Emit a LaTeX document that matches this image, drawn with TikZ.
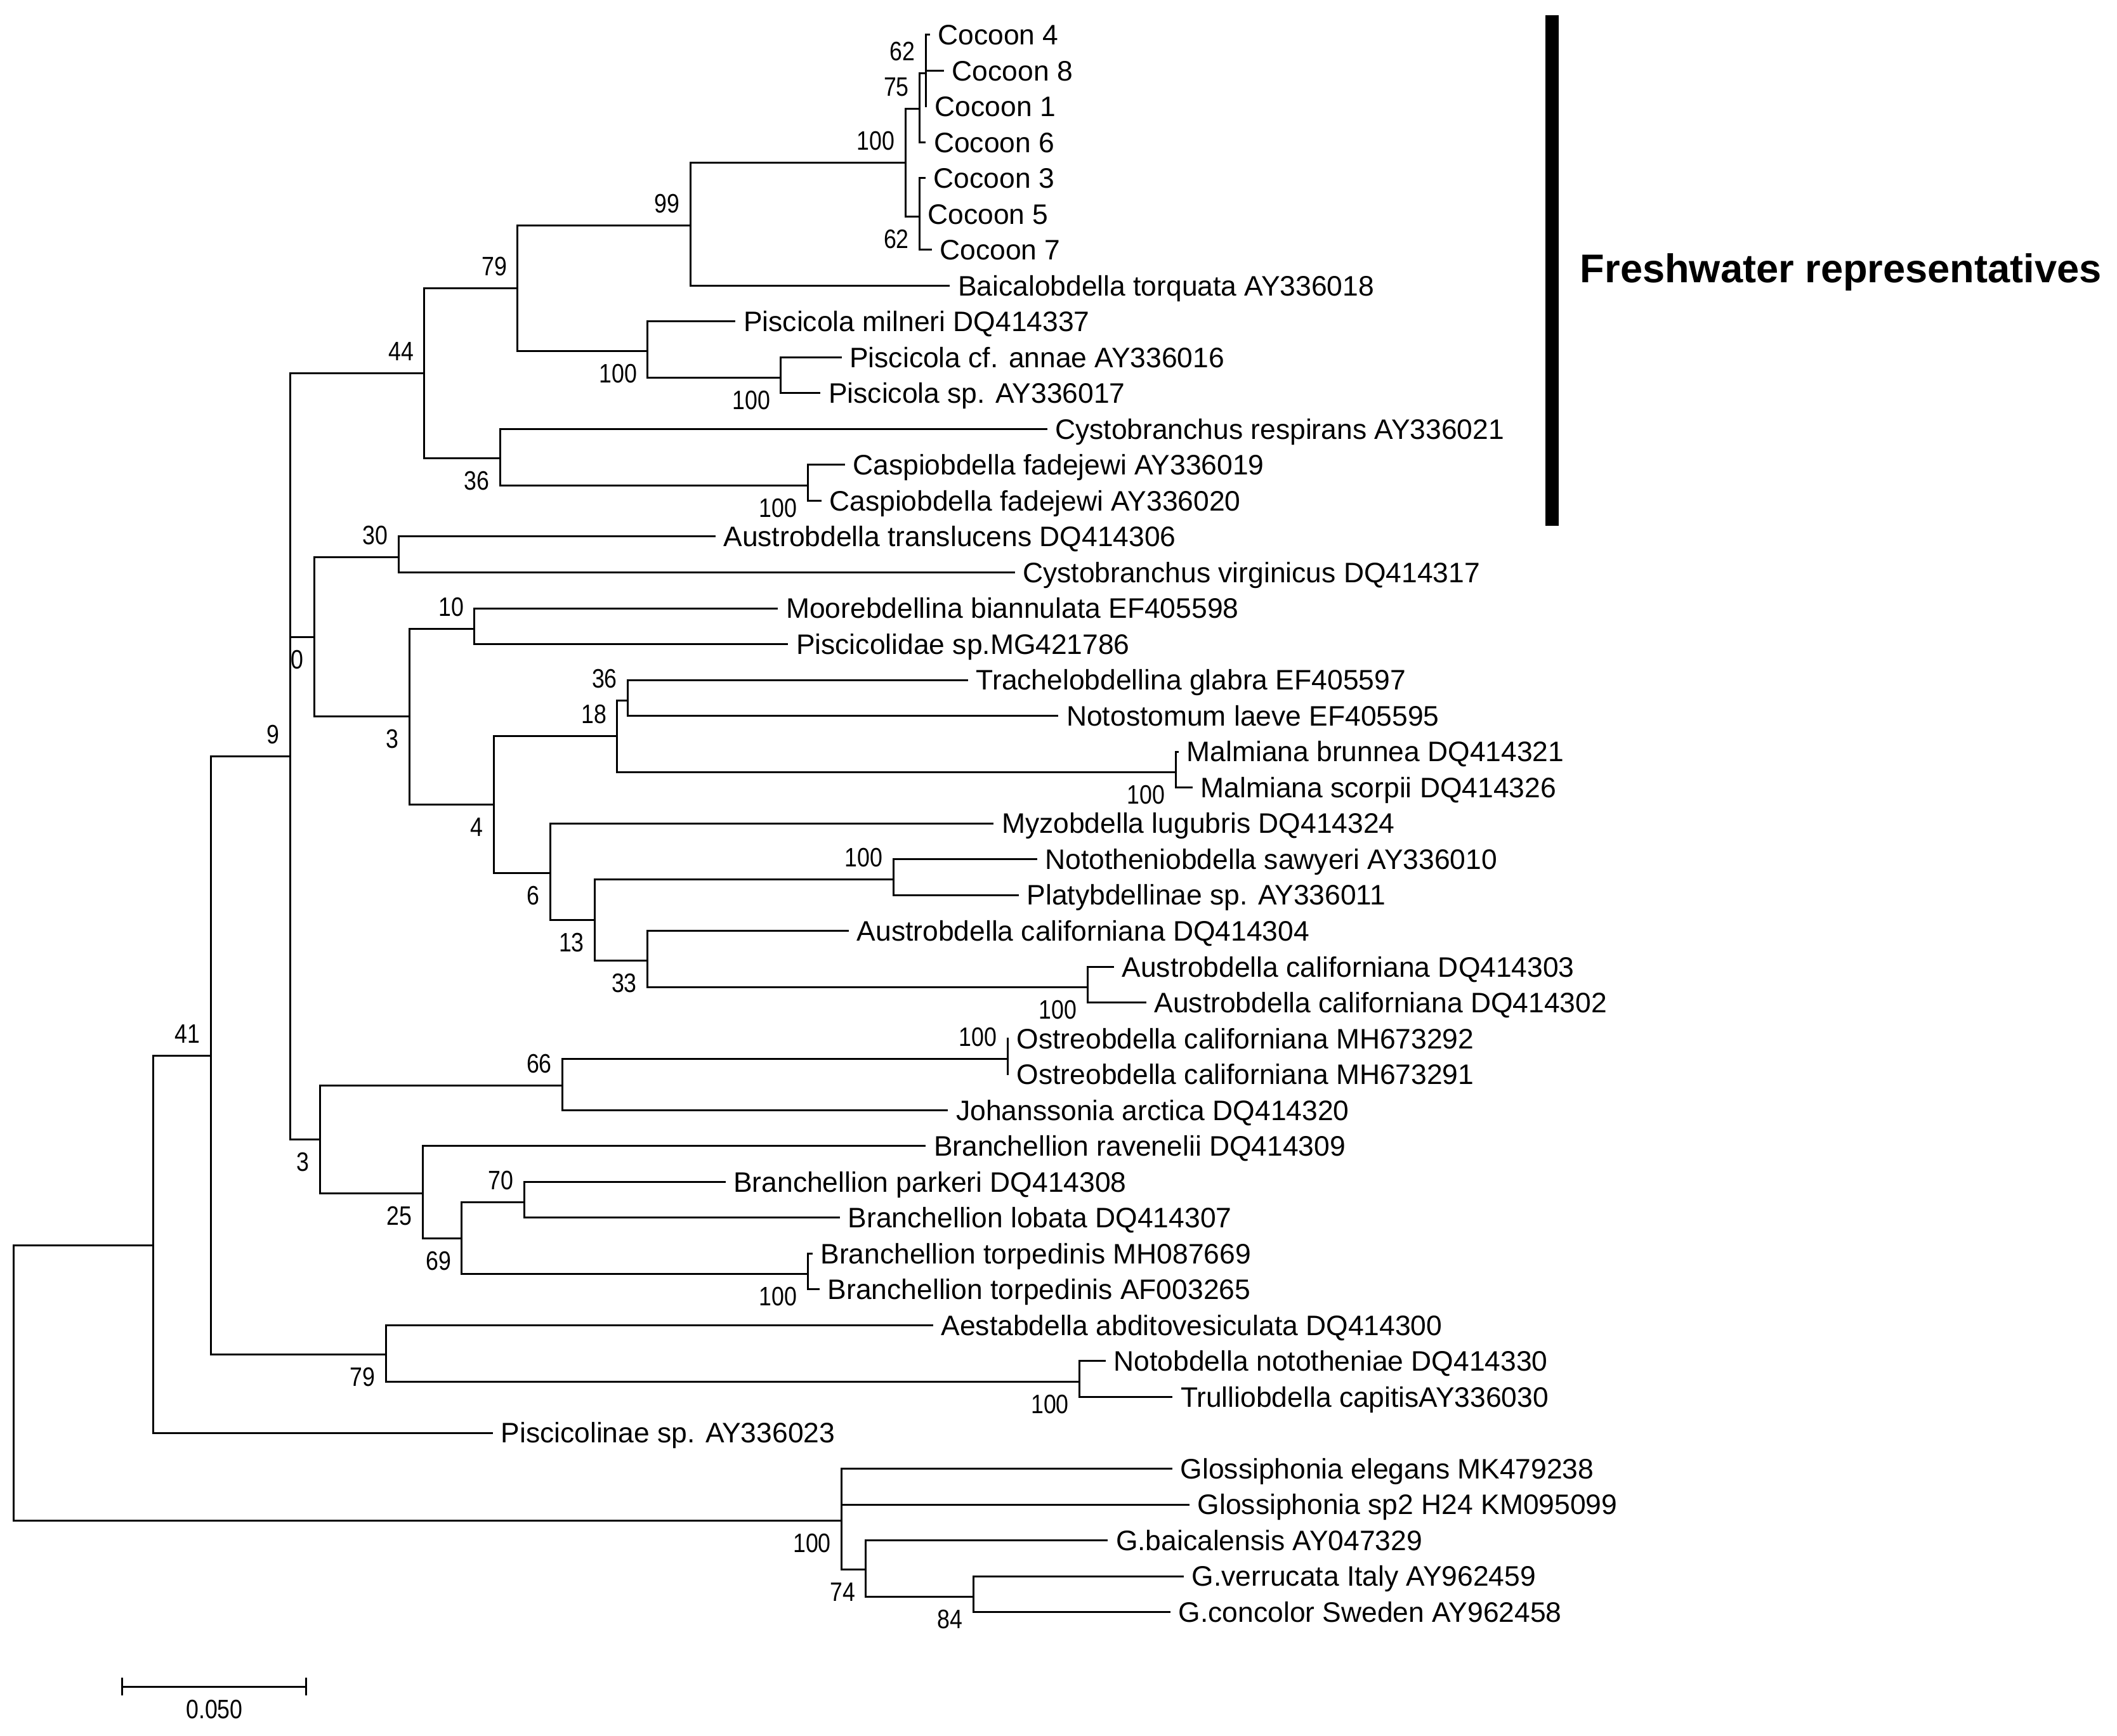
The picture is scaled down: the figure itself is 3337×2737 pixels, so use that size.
\documentclass[tikz,border=0pt]{standalone}
\usepackage{fontspec}
\setmainfont{Liberation Sans}
\newfontfamily\bsfamily[FakeStretch=0.85]{Liberation Sans}
\usepackage{tikz}

\newcommand{\leaffont}{\fontsize{11.1pt}{13pt}\selectfont}
\newcommand{\bsfont}{\bsfamily\fontsize{10.5pt}{12pt}\selectfont}
\newcommand{\fwfont}{\bfseries\fontsize{15.8pt}{18pt}\selectfont}

\begin{document}
\begin{tikzpicture}[x=0.25pt, y=-0.25pt,
    branch/.style={line width=0.75pt},
    leaf/.style={anchor=west, inner xsep=3pt, inner ysep=0pt, text height=7.9pt, text depth=0pt, yshift=1pt, font=\leaffont},
    num/.style={inner sep=0pt, text height=7.5pt, text depth=0pt, font=\bsfont},
    bs/.style={num, anchor=east, xshift=-4pt},
    bsup/.style={bs, yshift=8.75pt},
    bsdn/.style={bs, yshift=-8.75pt}]
    \useasboundingbox (0,0) rectangle (3337,2737);
    % leaves: name / row / tip x / text
    \foreach \n/\i/\x/\t in {c4/0/1465.6/Cocoon 4, c8/1/1488/Cocoon 8, c1/2/1461/Cocoon 1, c6/3/1459.4/Cocoon 6,
        c3/4/1459/Cocoon 3, c5/5/1449.6/Cocoon 5, c7/6/1468.7/Cocoon 7,
        baic/7/1497.4/Baicalobdella torquata AY336018, pmil/8/1159.4/Piscicola milneri DQ414337,
        pann/9/1326.5/Piscicola cf. annae AY336016, psp/10/1293.4/Piscicola sp. AY336017,
        cres/11/1650.5/Cystobranchus respirans AY336021, cf19/12/1331.6/Caspiobdella fadejewi AY336019,
        cf20/13/1294.6/Caspiobdella fadejewi AY336020, atra/14/1127.6/Austrobdella translucens DQ414306,
        cvir/15/1599.5/Cystobranchus virginicus DQ414317, mbia/16/1226.4/Moorebdellina biannulata EF405598,
        pmg/17/1242.3/Piscicolidae sp.MG421786, tgla/18/1526/Trachelobdellina glabra EF405597,
        nlae/19/1668.4/Notostomum laeve EF405595, mbru/20/1857.8/Malmiana brunnea DQ414321,
        msco/21/1880/Malmiana scorpii DQ414326, mlug/22/1566.3/Myzobdella lugubris DQ414324,
        nsaw/23/1634.6/Nototheniobdella sawyeri AY336010, plat/24/1605.9/Platybdellinae sp. AY336011,
        ac04/25/1338/Austrobdella californiana DQ414304, ac03/26/1755.7/Austrobdella californiana DQ414303,
        ac02/27/1806.8/Austrobdella californiana DQ414302, oc92/28/1590/Ostreobdella californiana MH673292,
        oc91/29/1590/Ostreobdella californiana MH673291, jarc/30/1494.3/Johanssonia arctica DQ414320,
        brav/31/1459.2/Branchellion ravenelii DQ414309, bpar/32/1143.5/Branchellion parkeri DQ414308,
        blob/33/1324/Branchellion lobata DQ414307, bt69/34/1280.6/Branchellion torpedinis MH087669,
        bt65/35/1292/Branchellion torpedinis AF003265, aabd/36/1470.7/Aestabdella abditovesiculata DQ414300,
        nnot/37/1743/Notobdella nototheniae DQ414330, tcap/38/1848.2/Trulliobdella capitisAY336030,
        ps23/39/776.8/Piscicolinae sp. AY336023, gele/40/1848/Glossiphonia elegans MK479238,
        gsp2/41/1875/Glossiphonia sp2 H24 KM095099, gbai/42/1746.2/G.baicalensis AY047329,
        gver/43/1866/G.verrucata Italy AY962459, gcon/44/1845/G.concolor Sweden AY962458}
        \node[leaf] (\n) at (\x, {58.7+56.52*\i}) {\t};
    % internal nodes
    \coordinate (NCoc) at (1427, 256.52);   \coordinate (N75) at (1449.6, 171.74);
    \coordinate (N62a) at (1459, 115.22);   \coordinate (N62b) at (1449.6, 341.3);
    \coordinate (N99) at (1088.3, 355.43);  \coordinate (NPis) at (1020.9, 553.25);
    \coordinate (NPis2) at (1230.9, 595.64); \coordinate (N79) at (815.8, 454.34);
    \coordinate (NCasp) at (1273, 765.2);   \coordinate (N36) at (788.3, 722.81);
    \coordinate (N44) at (668.9, 588.58);   \coordinate (N30) at (628.3, 878.24);
    \coordinate (N10) at (747.7, 991.28);   \coordinate (N36b) at (989.5, 1104.32);
    \coordinate (NMal) at (1853.3, 1217.36); \coordinate (N18) at (972.7, 1160.84);
    \coordinate (NNoto) at (1408.2, 1386.92); \coordinate (NAus) at (1714.3, 1556.48);
    \coordinate (N33) at (1020.5, 1514.09); \coordinate (N13) at (937.5, 1450.5);
    \coordinate (N6) at (867.1, 1376.32);   \coordinate (N4) at (778.3, 1268.58);
    \coordinate (N3) at (645.1, 1129.93);   \coordinate (N0) at (495.1, 1004.09);
    \coordinate (NOst) at (1588, 1669.52);  \coordinate (N66) at (886.6, 1711.91);
    \coordinate (N70) at (826, 1895.6);     \coordinate (NTor) at (1273, 2008.64);
    \coordinate (N69) at (727.7, 1952.12);  \coordinate (N25) at (666, 1881.47);
    \coordinate (N3b) at (504.5, 1796.69);  \coordinate (N9) at (457.6, 1192.6);
    \coordinate (NNot) at (1701.5, 2178.2); \coordinate (N79b) at (608, 2135.81);
    \coordinate (N41) at (332, 1664.2);     \coordinate (NA) at (241, 1963.59);
    \coordinate (N84) at (1534.4, 2517.32); \coordinate (N74) at (1364.8, 2474.93);
    \coordinate (NG) at (1326.5, 2397.2);   \coordinate (R) at (21.4, 2180.4);
    % freshwater clade
    \draw[branch] (NCoc) |- (N75) (NCoc) |- (N62b) (N75) |- (N62a) (N75) |- (c6.west)
        (N62a) |- (c4.west) (N62a) |- (c8.west) (N62a) |- (c1.west)
        (N62b) |- (c3.west) (N62b) |- (c5.west) (N62b) |- (c7.west)
        (N99) |- (NCoc) (N99) |- (baic.west) (N79) |- (N99) (N79) |- (NPis)
        (NPis) |- (pmil.west) (NPis) |- (NPis2) (NPis2) |- (pann.west) (NPis2) |- (psp.west)
        (N44) |- (N79) (N44) |- (N36) (N36) |- (cres.west) (N36) |- (NCasp)
        (NCasp) |- (cf19.west) (NCasp) |- (cf20.west);
    % marine clades
    \draw[branch] (N0) |- (N30) (N0) |- (N3) (N30) |- (atra.west) (N30) |- (cvir.west)
        (N3) |- (N10) (N3) |- (N4) (N10) |- (mbia.west) (N10) |- (pmg.west)
        (N4) |- (N18) (N4) |- (N6) (N18) |- (N36b) (N18) |- (NMal)
        (N36b) |- (tgla.west) (N36b) |- (nlae.west) (NMal) |- (mbru.west) (NMal) |- (msco.west)
        (N6) |- (mlug.west) (N6) |- (N13) (N13) |- (NNoto) (N13) |- (N33)
        (NNoto) |- (nsaw.west) (NNoto) |- (plat.west) (N33) |- (ac04.west) (N33) |- (NAus)
        (NAus) |- (ac03.west) (NAus) |- (ac02.west);
    \draw[branch] (N3b) |- (N66) (N3b) |- (N25) (N66) |- (NOst) (N66) |- (jarc.west)
        (NOst) |- (oc92.west) (NOst) |- (oc91.west)
        (N25) |- (brav.west) (N25) |- (N69) (N69) |- (N70) (N69) |- (NTor)
        (N70) |- (bpar.west) (N70) |- (blob.west) (NTor) |- (bt69.west) (NTor) |- (bt65.west);
    \draw[branch] (N9) |- (N44) (N9) |- (N0) (N9) |- (N3b)
        (N41) |- (N9) (N41) |- (N79b) (N79b) |- (aabd.west) (N79b) |- (NNot)
        (NNot) |- (nnot.west) (NNot) |- (tcap.west)
        (NA) |- (N41) (NA) |- (ps23.west);
    % outgroup and root
    \draw[branch] (NG) |- (gele.west) (NG) |- (gsp2.west) (NG) |- (N74)
        (N74) |- (gbai.west) (N74) |- (N84) (N84) |- (gver.west) (N84) |- (gcon.west)
        (R) |- (NA) (R) |- (NG);
    % bootstrap values
    \node[bsup] (b62a) at (N62a) {62};  \node[bsup] (b75) at (N75) {75};
    \node[bsup] (bCoc) at (NCoc) {100}; \node[bsdn] (b62b) at (N62b) {62};
    \node[bsup] (b99) at (N99) {99};    \node[bsup] (b79) at (N79) {79};
    \node[bsdn] (bPis) at (NPis) {100}; \node[bsdn] (bPis2) at (NPis2) {100};
    \node[bsup] (b44) at (N44) {44};    \node[bsdn] (b36) at (N36) {36};
    \node[bsdn] (bCasp) at (NCasp) {100}; \node[bsup] (b30) at (N30) {30};
    \node[bsdn] (b0) at (N0) {0};       \node[bsup] (b10) at (N10) {10};
    \node[bsdn] (b3) at (N3) {3};       \node[bsup] (b36b) at (N36b) {36};
    \node[bsup] (b18) at (N18) {18};    \node[bsdn] (bMal) at (NMal) {100};
    \node[bsdn] (b4) at (N4) {4};       \node[bsdn] (b6) at (N6) {6};
    \node[bsup] (bNoto) at (NNoto) {100}; \node[bsdn] (b13) at (N13) {13};
    \node[bsdn] (b33) at (N33) {33};    \node[bsdn] (bAus) at (NAus) {100};
    \node[bsup] (bOst) at (NOst) {100}; \node[bsup] (b66) at (N66) {66};
    \node[bsdn] (b3b) at (N3b) {3};     \node[bsdn] (b25) at (N25) {25};
    \node[bsup] (b70) at (N70) {70};    \node[bsdn] (b69) at (N69) {69};
    \node[bsdn] (bTor) at (NTor) {100}; \node[bsup] (b9) at (N9) {9};
    \node[bsdn] (b79b) at (N79b) {79};  \node[bsdn] (bNot) at (NNot) {100};
    \node[bsup] (b41) at (N41) {41};    \node[bsdn] (bG) at (NG) {100};
    \node[bsdn] (b74) at (N74) {74};    \node[bsdn] (b84) at (N84) {84};
    % scale bar
    \coordinate (sb1) at (192, 2659); \coordinate (sb2) at (482, 2659);
    \draw[branch] (sb1) -- (sb2) ([yshift=3.5pt]sb1) -- ([yshift=-3.5pt]sb1) ([yshift=3.5pt]sb2) -- ([yshift=-3.5pt]sb2);
    \node[num] (sbl) at (338, 2694.5) {0.050};
    % freshwater bar
    \coordinate (fw1) at (2446.4, 24.2); \coordinate (fw2) at (2446.4, 829);
    \draw[line width=5.25pt] (fw1) -- (fw2);
    \node[anchor=west, inner sep=0pt, text height=11.3pt, text depth=0pt, font=\fwfont] (fw) at (2490, 422.8) {Freshwater representatives};
\end{tikzpicture}
\end{document}
